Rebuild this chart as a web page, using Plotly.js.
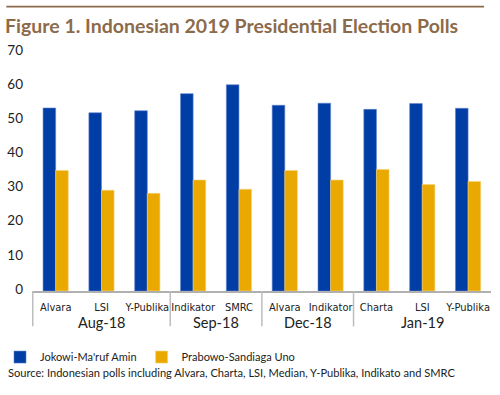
<!DOCTYPE html>
<html>
<head>
<meta charset="utf-8">
<script src="https://cdn.plot.ly/plotly-3.0.1.min.js"></script>
<style>html,body{margin:0;padding:0;background:#fff;}#chart{width:500px;height:395px;}</style>
</head>
<body>
<div id="chart"></div>
<script>
const months = ["Aug-18","Aug-18","Aug-18","Sep-18","Sep-18","Dec-18","Dec-18","Jan-19","Jan-19","Jan-19"];
const pollsters = ["Alvara","LSI","Y-Publika","Indikator","SMRC","Alvara","Indikator","Charta","LSI","Y-Publika"];
const jokowi = [53.6, 52.2, 52.8, 57.8, 60.4, 54.4, 55.0, 53.2, 54.9, 53.5];
const prabowo = [35.3, 29.5, 28.6, 32.5, 29.8, 35.3, 32.5, 35.6, 31.2, 32.1];
const seriesNames = ["Jokowi-Ma'ruf Amin", "Prabowo-Sandiaga Uno"];
const yTicks = [0,10,20,30,40,50,60,70];

function hasFont(name){
  const c = document.createElement("canvas").getContext("2d");
  const s = "Y-Publika Indikator SMRC";
  c.font = "20px monospace"; const a = c.measureText(s).width;
  c.font = "20px '" + name + "', monospace"; const b = c.measureText(s).width;
  c.font = "20px serif"; const a2 = c.measureText(s).width;
  c.font = "20px '" + name + "', serif"; const b2 = c.measureText(s).width;
  return a !== b || a2 !== b2;
}
const narrowCandidates = ["Liberation Sans Narrow","DejaVu Sans Condensed","Roboto Condensed","Arial Narrow"];
let narrow = narrowCandidates.find(hasFont);
const CAT_FONT = narrow ? "'" + narrow + "'" : "Roboto";
const CAT_SIZE = narrow ? (narrow === "DejaVu Sans Condensed" ? 11 : 13) : 10.5;
const TXT = "Lato, 'Open Sans', sans-serif";
const BROWN = "#8c6b4b";

const keys = months.map((m, i) => m + "|" + pollsters[i]);

const groups = [];
months.forEach((m, i) => {
  if (!groups.length || groups[groups.length-1].name !== m) groups.push({name:m, start:i, end:i});
  else groups[groups.length-1].end = i;
});

const traces = [
  {type:"bar", name:seriesNames[0], x:keys, y:jokowi,
   marker:{color:"#003ea6", line:{color:"#5f82cc", width:0.6}}},
  {type:"bar", name:seriesNames[1], x:keys, y:prabowo,
   marker:{color:"#eaa900", line:{color:"#f5d37a", width:0.6}}}
];

const shapes = [
  {type:"line", xref:"paper", yref:"paper", x0:-0.056, x1:0.985, y0:1.19, y1:1.19,
   layer:"above", line:{color:BROWN, width:1.6}}
];
groups.forEach(g => {
  shapes.push({type:"line", xref:"x", yref:"paper", x0:g.start-0.5, x1:g.start-0.5, y0:0, y1:-0.148,
               layer:"above", line:{color:"#bdbdbd", width:1.5}});
});

const annotations = groups.map(g => ({
  text:g.name, xref:"x", yref:"paper", x:(g.start+g.end)/2, y:-0.133, xanchor:"center", yanchor:"middle",
  showarrow:false, font:{family:TXT, size:14.5, color:"#222"}
}));
annotations.push({text:"Source: Indonesian polls including Alvara, Charta, LSI, Median, Y-Publika, Indikato and SMRC",
  xref:"paper", yref:"paper", x:-0.056, y:-0.339, xanchor:"left", yanchor:"middle",
  showarrow:false, font:{family:TXT, size:11.1, color:"#222"}});

const layout = {
  width:500, height:395,
  margin:{l:32, r:9, t:52, b:104, autoexpand:false},
  paper_bgcolor:"#fff", plot_bgcolor:"#fff",
  font:{family:TXT, size:12, color:"#222"},
  title:{text:"Figure 1. Indonesian 2019 Presidential Election Polls",
         x:0.01, xanchor:"left", xref:"container", y:0.935, yanchor:"middle", yref:"container",
         font:{family:"Lato, 'Open Sans', sans-serif", size:19.5, weight:"bold", color:BROWN}},
  bargap:0.45, bargroupgap:0,
  barmode:"group",
  showlegend:true,
  legend:{orientation:"h", xref:"container", yref:"container", x:-0.03, xanchor:"left", y:0.096, yanchor:"middle",
          font:{family:TXT, size:11, color:"#222"}, itemwidth:30,
          traceorder:"normal", bgcolor:"rgba(0,0,0,0)"},
  xaxis:{type:"category", tickvals:keys, ticktext:pollsters, tickangle:0, automargin:false,
         showline:true, linecolor:"#b0b0b0", linewidth:1.5, ticks:"", ticklabelstandoff:5,
         tickfont:{family:CAT_FONT, size:CAT_SIZE, color:"#222"}, showgrid:false, zeroline:false},
  yaxis:{range:[0,70], tickvals:yTicks, ticktext:yTicks.map(String), showgrid:false, automargin:false,
         zeroline:false, showline:false, ticks:"", ticklabelstandoff:8, ticklabelshift:-2,
         tickfont:{family:TXT, size:13.5, color:"#222"}},
  shapes:shapes,
  annotations:annotations
};

Plotly.newPlot("chart", traces, layout, {staticPlot:true, displayModeBar:false});
</script>
</body>
</html>
